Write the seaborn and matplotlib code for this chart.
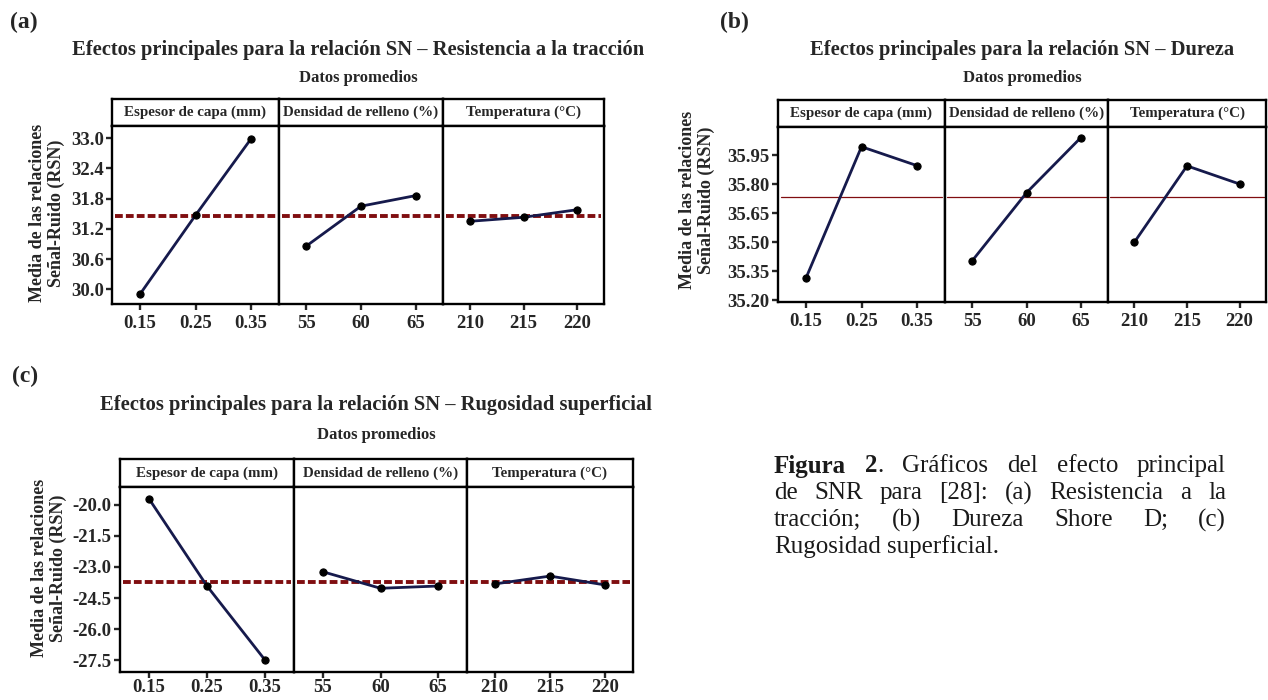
import numpy as np
import pandas as pd
import matplotlib
matplotlib.use("Agg")
import matplotlib.pyplot as plt
import seaborn as sns

# --- datos ---
factores = ["Espesor de capa (mm)", "Densidad de relleno (%)", "Temperatura (°C)"]
etiquetas_niveles = [["0.15", "0.25", "0.35"], ["55", "60", "65"], ["210", "215", "220"]]

# (a) Resistencia a la traccion
resist_espesor = [29.90, 31.47, 32.99]
resist_densidad = [30.86, 31.65, 31.86]
resist_temp = [31.35, 31.43, 31.58]
resist_ticks = [30.0, 30.6, 31.2, 31.8, 32.4, 33.0]

# (b) Dureza
dureza_espesor = [35.312, 35.993, 35.895]
dureza_densidad = [35.403, 35.755, 36.040]
dureza_temp = [35.499, 35.894, 35.800]
dureza_ticks = [35.20, 35.35, 35.50, 35.65, 35.80, 35.95]

# (c) Rugosidad superficial
rugos_espesor = [-19.70, -23.92, -27.50]
rugos_densidad = [-23.23, -24.03, -23.92]
rugos_temp = [-23.82, -23.44, -23.87]
rugos_ticks = [-27.5, -26.0, -24.5, -23.0, -21.5, -20.0]

sns.set_style("white")
plt.rcParams['font.family'] = ['Liberation Serif', 'DejaVu Serif']

W, H = 1268, 700
fig = plt.figure(figsize=(W / 100, H / 100), dpi=100)
fig.patch.set_facecolor("white")

AZUL = "#161a4c"
ROJO = "#800e10"


def eje(x0, y0, x1, y1):
    # ejes en pixeles (origen arriba a la izquierda)
    return fig.add_axes([x0 / W, 1 - y1 / H, (x1 - x0) / W, (y1 - y0) / H])


def panel(letra, letra_xy, titulo, titulo_y, datos_y, xs, y_strip, y_top, y_bot,
          series, yticks, fmt, ylim, discontinua, ylab_xy, xpad=4):
    cx = (xs[0] + xs[-1]) / 2
    fig.text(letra_xy[0] / W, 1 - letra_xy[1] / H, letra, fontsize=17,
             fontweight="bold", ha="left", va="center")
    fig.text(cx / W, 1 - titulo_y / H, titulo, fontsize=14.8, fontweight="bold",
             ha="center", va="center")
    fig.text(cx / W, 1 - datos_y / H, "Datos promedios", fontsize=12,
             fontweight="bold", ha="center", va="center")

    media = np.mean(series[0])
    for i in range(3):
        # cabecera (strip)
        st = eje(xs[i], y_strip, xs[i + 1], y_top)
        st.set_xticks([])
        st.set_yticks([])
        for s in st.spines.values():
            s.set_linewidth(1.7)
            s.set_color("black")
        st.text(0.5, 0.5, factores[i], transform=st.transAxes, ha="center",
                va="center", fontsize=10.8, fontweight="bold")

        ax = eje(xs[i], y_top, xs[i + 1], y_bot)
        df = pd.DataFrame({"pos": [0, 1, 2], "valor": series[i]})
        if discontinua:
            ax.axhline(media, xmin=0.02, xmax=0.98, color=ROJO, lw=2.8,
                       ls=(0, (2.0, 0.8)), zorder=1)
        else:
            ax.axhline(media, xmin=0.015, xmax=0.985, color=ROJO, lw=0.9, zorder=1)
        sns.lineplot(data=df, x="pos", y="valor", ax=ax, color=AZUL, lw=2.0,
                     marker="o", markersize=5.2, markerfacecolor="black",
                     markeredgecolor="black", zorder=3)
        ax.set_xlim(-0.5, 2.5)
        ax.set_ylim(*ylim)
        ax.set_xlabel("")
        ax.set_ylabel("")
        ax.set_xticks([0, 1, 2])
        ax.set_xticklabels(etiquetas_niveles[i], fontsize=13.5, fontweight="bold")
        if i == 0:
            ax.set_yticks(yticks)
            ax.set_yticklabels([fmt % v for v in yticks], fontsize=13.5,
                               fontweight="bold")
            ax.tick_params(axis="y", direction="out", length=4, width=1.7,
                           left=True, pad=2)
        else:
            ax.set_yticks([])
        ax.tick_params(axis="x", direction="out", length=4, width=1.7,
                       bottom=True, pad=xpad)
        for s in ax.spines.values():
            s.set_linewidth(1.7)
            s.set_color("black")

    fig.text(ylab_xy[0] / W, 1 - ylab_xy[1] / H,
             "Media de las relaciones\nSeñal-Ruido (RSN)", rotation=90,
             fontsize=13, fontweight="bold", ha="center", va="center",
             linespacing=1.15, multialignment="center")


panel("(a)", (10, 22), "Efectos principales para la relación SN – Resistencia a la tracción",
      50, 78, [112, 279, 443, 604], 99, 126, 304,
      [resist_espesor, resist_densidad, resist_temp], resist_ticks, "%.1f",
      (29.71, 33.24), True, (47, 213))

panel("(b)", (720, 22), "Efectos principales para la relación SN – Dureza",
      50, 78, [778, 945, 1108, 1266], 100, 127, 302,
      [dureza_espesor, dureza_densidad, dureza_temp], dureza_ticks, "%.2f",
      (35.19, 36.095), False, (697, 200))

panel("(c)", (12, 376), "Efectos principales para la relación SN – Rugosidad superficial",
      405, 435, [120, 294, 467, 633], 459, 487, 672,
      [rugos_espesor, rugos_densidad, rugos_temp], rugos_ticks, "%.1f",
      (-28.08, -19.13), True, (49, 568), xpad=1)

# --- leyenda de la figura (texto justificado) ---
renderer = fig.canvas.get_renderer()
X_IZQ, X_DER = 774, 1226
TAM = 18
lineas = [
    [[("Figura", "bold")], [("2", "bold"), (".", "normal")], [("Gráficos", "normal")],
     [("del", "normal")], [("efecto", "normal")], [("principal", "normal")]],
    [[(w, "normal")] for w in "de SNR para [28]: (a) Resistencia a la".split()],
    [[(w, "normal")] for w in "tracción; (b) Dureza Shore D; (c)".split()],
    [[(w, "normal")] for w in "Rugosidad superficial.".split()],
]
y_lineas = [466, 493, 520, 547]

for n, (linea, yl) in enumerate(zip(lineas, y_lineas)):
    objetos = []
    anchos = []
    for palabra in linea:
        piezas = []
        ancho = 0
        for txt, peso in palabra:
            t = fig.text(0, 1 - yl / H, txt, fontsize=TAM, fontweight=peso,
                         ha="left", va="center", color="#1a1a1a")
            w = t.get_window_extent(renderer).width
            piezas.append((t, w))
            ancho += w
        objetos.append(piezas)
        anchos.append(ancho)
    if n < len(lineas) - 1:
        hueco = (X_DER - X_IZQ - sum(anchos)) / (len(linea) - 1)
    else:
        hueco = TAM * 100 / 72 * 0.25
    x = X_IZQ
    for piezas, ancho in zip(objetos, anchos):
        xp = x
        for t, w in piezas:
            t.set_x(xp / W)
            xp += w
        x += ancho + hueco

fig.savefig("out.png", dpi=100, facecolor="white")
